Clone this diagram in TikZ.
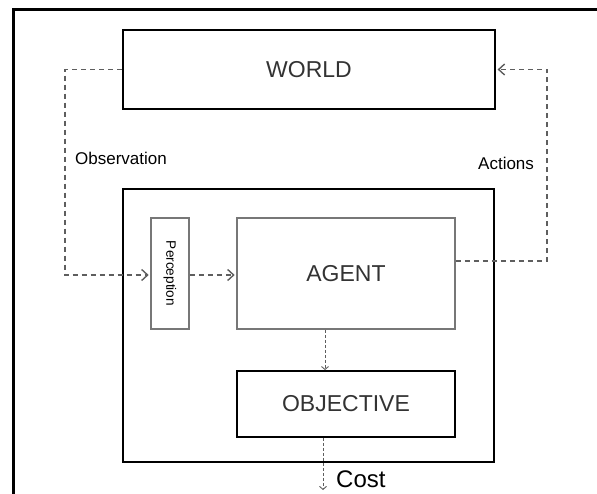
\documentclass[tikz,border=0pt]{standalone}
\usepackage{fontspec}
\setmainfont{Liberation Sans}
\usepackage{xcolor}
\usetikzlibrary{arrows.meta,positioning,calc}

\definecolor{linegray}{HTML}{5E5E5E}
\definecolor{boxgray}{HTML}{777777}
\definecolor{textgray}{HTML}{333333}

\begin{document}
\begin{tikzpicture}[
  x=1pt, y=-1pt,
  box/.style={draw, line width=2.2pt, align=center, inner sep=0pt, font=\fontsize{23}{26}\selectfont, text=textgray},
  graybox/.style={box, draw=boxgray, line width=1.6pt},
  flow/.style={draw=linegray, line width=1.5pt, dash pattern=on 5pt off 4pt, shorten >=1.5pt, -{Straight Barb[length=6pt, width=11pt, line width=1.4pt]}},
  thinflow/.style={draw=linegray, line width=0.9pt, dash pattern=on 3pt off 2pt, -{Straight Barb[length=3pt, width=7pt, line width=0.9pt]}},
  lbl/.style={inner sep=0pt, font=\fontsize{17}{20}\selectfont}
]
\useasboundingbox (0,0) rectangle (597,494);

% outer frame (cut by the page)
\draw[line width=3pt] (13,494) -- (13,10) -- (597,10);

\node[box, minimum width=372pt, minimum height=79pt] (world) at (309,69.5) {WORLD};
\node[draw, line width=2.4pt, minimum width=371pt, minimum height=273pt] (agentframe) at (308.5,325.5) {};
\node[graybox, minimum width=38pt, minimum height=111pt] (perception) at (170,273.5) {};
\node[rotate=-90, inner sep=0pt, font=\fontsize{13.6}{16}\selectfont] (perceptiontext) at (perception) {Perception};
\node[graybox, minimum width=218pt, minimum height=111pt] (agent) at (346,273.5) {AGENT};
\node[box, line width=1.8pt, minimum width=218pt, minimum height=66pt] (objective) at (346,404) {OBJECTIVE};

\node[lbl, anchor=west] (observation) at (75,158) {Observation};
\node[lbl, anchor=west] (actions) at (478,163) {Actions};

\coordinate (obscorner) at (65,275);
\coordinate (actcorner) at (547,261);
\coordinate (costend) at (323,490);
\node[lbl, anchor=west, font=\fontsize{24}{28}\selectfont] (cost) at (336,479) {Cost};

% Arrows
\draw[flow] (world.west) -| (obscorner) -- (obscorner -| perception.west);
\draw[flow] (obscorner -| perception.east) -- (obscorner -| agent.west);
\draw[flow] (agent.east |- actcorner) -- (actcorner) |- (world.east);
\draw[thinflow] ([xshift=-21pt]agent.south) -- ([xshift=-21pt]objective.north);
\draw[thinflow] (objective.south -| costend) -- (costend);

\end{tikzpicture}
\end{document}
